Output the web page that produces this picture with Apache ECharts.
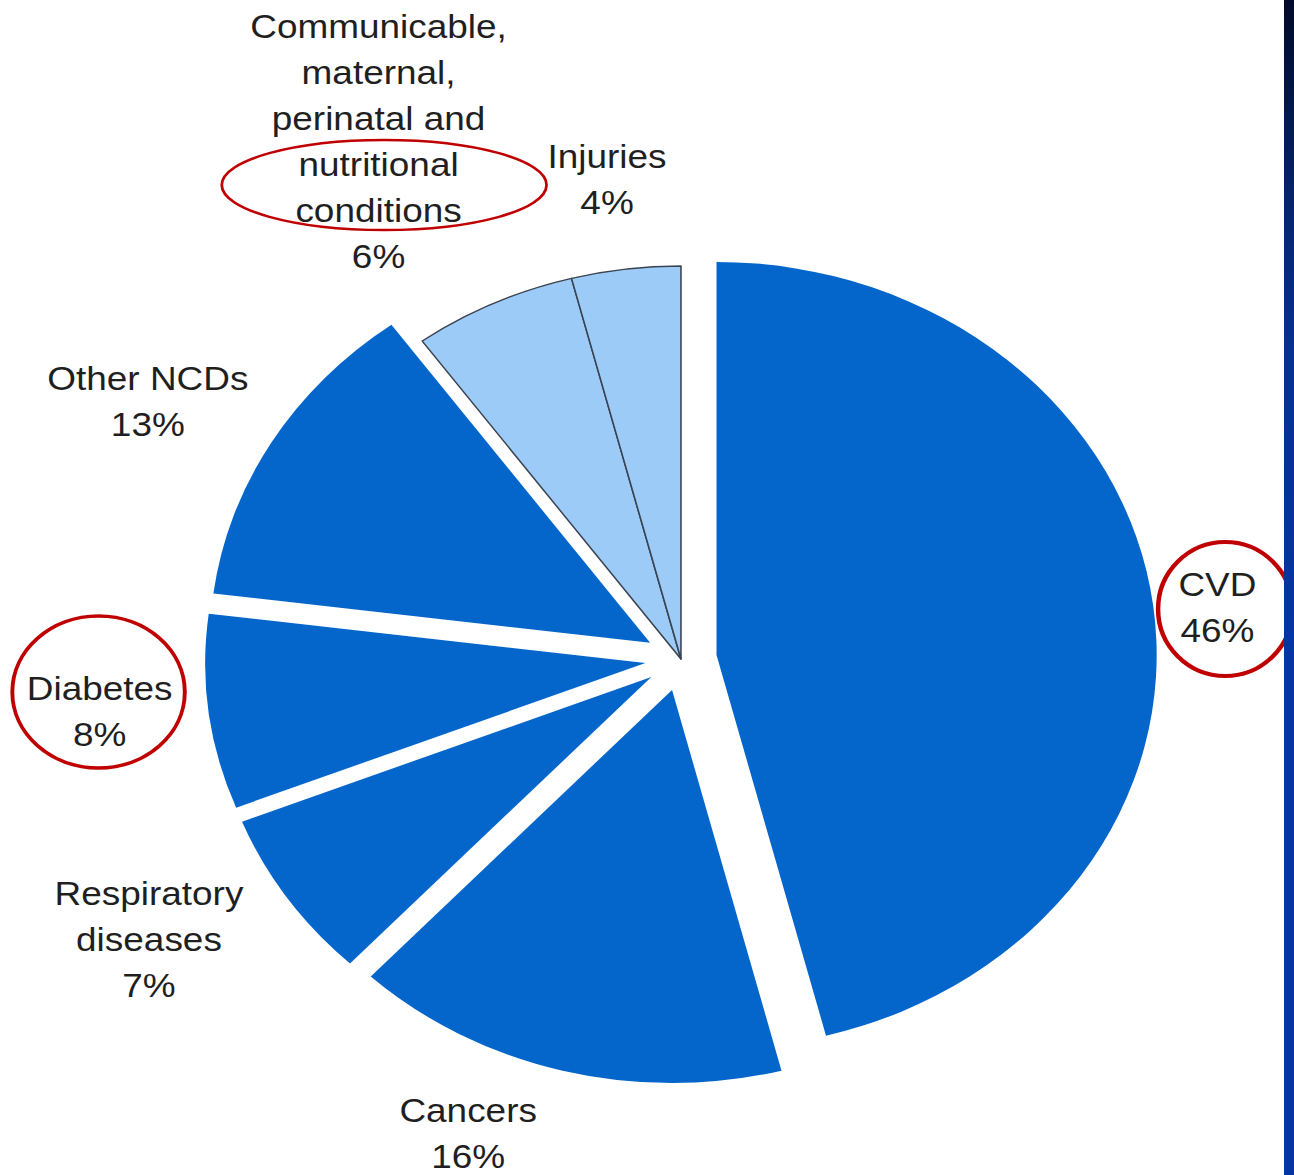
<!DOCTYPE html>
<html>
<head>
<meta charset="utf-8">
<title>Deaths by cause</title>
<script src="https://cdn.jsdelivr.net/npm/echarts@6/dist/echarts.min.js"></script>
<style>
  html, body { margin: 0; padding: 0; background: #ffffff; overflow: hidden; }
  #stage { position: absolute; left: 0; top: 0; width: 1294px; height: 1175px; overflow: hidden; background: #ffffff; }
  /* the figure is drawn in a narrower box and widened to the slide proportions */
  #chart { position: absolute; left: 0; top: 0; width: 1155px; height: 1175px; transform: scaleX(1.12); transform-origin: 0 0; }
  #edge { position: absolute; left: 1284px; top: 0; width: 10px; height: 1175px;
          background: linear-gradient(to bottom, #010a28 0%, #05256f 18%, #05318f 30%, #0336a3 55%, #0336a3 100%); }
</style>
</head>
<body>
<div id="stage">
  <div id="chart"></div>
  <div id="edge"></div>
</div>
<script>
// Share of deaths by cause (%)
const categories = [
  'CVD',
  'Cancers',
  'Respiratory diseases',
  'Diabetes',
  'Other NCDs',
  'Communicable, maternal, perinatal and nutritional conditions',
  'Injuries'
];
const shares = [46, 16, 7, 8, 13, 6, 4];
// Noncommunicable causes are pulled out of the pie
const isNcd = [true, true, true, true, true, false, false];

// Wrapped label text for each cause
const labelLines = [
  'CVD',
  'Cancers',
  'Respiratory\ndiseases',
  'Diabetes',
  'Other NCDs',
  'Communicable,\nmaternal,\nperinatal and\nnutritional\nconditions',
  'Injuries'
];

// Label anchor points (chart px, before widening)
const labelSpots = [
  [1087, 607],
  [418, 1133],
  [133, 939],
  [89, 711],
  [132, 401],
  [338, 141],
  [542, 179]
];

const PIE_CENTER = [608, 659];
const PIE_RADIUS = 393;
const PULL_OUT = 32;
const NCD_BLUE = '#0466cb';
const OTHER_BLUE = '#9dcbf8';

const chart = echarts.init(document.getElementById('chart'), null, { renderer: 'svg' });

const total = shares.reduce((a, b) => a + b, 0);

// One pie layer per cause: all layers share the same angles, only one slice
// is painted per layer, and that layer's centre is moved along the slice bisector.
let before = 0;
const layers = categories.map((name, k) => {
  const mid = (before + shares[k] / 2) / total * 2 * Math.PI;
  before += shares[k];
  const pull = isNcd[k] ? PULL_OUT : 0;
  const center = [
    PIE_CENTER[0] + pull * Math.sin(mid),
    PIE_CENTER[1] - pull * Math.cos(mid)
  ];
  const data = categories.map((n, i) => {
    if (i !== k) {
      return {
        name: n, value: shares[i],
        itemStyle: { color: 'rgba(0,0,0,0)', borderWidth: 0 },
        label: { show: false }
      };
    }
    const style = isNcd[i]
      ? { color: NCD_BLUE, borderWidth: 0 }
      : { color: OTHER_BLUE, borderColor: '#3a4350', borderWidth: 1.4 };
    return { name: n, value: shares[i], itemStyle: style };
  });
  return {
    type: 'pie',
    name: name,
    center: center,
    radius: PIE_RADIUS,
    startAngle: 90,
    clockwise: true,
    avoidLabelOverlap: false,
    silent: true,
    emphasis: { disabled: true },
    data: data,
    label: {
      show: true,
      position: 'outside',
      formatter: p => labelLines[p.dataIndex] + '\n' + p.value + '%',
      fontFamily: 'Liberation Sans, Arial, sans-serif',
      fontSize: 33,
      lineHeight: 46,
      color: '#1f1f1f',
      align: 'center'
    },
    labelLine: { show: false },
    labelLayout: p => ({
      x: labelSpots[p.dataIndex][0],
      y: labelSpots[p.dataIndex][1],
      align: 'center',
      verticalAlign: 'middle'
    })
  };
});

chart.setOption({
  backgroundColor: '#ffffff',
  animation: false,
  series: layers,
  graphic: [
    {
      type: 'ellipse', z: 100, silent: true,
      shape: { cx: 343, cy: 185, rx: 145, ry: 45 },
      style: { fill: 'none', stroke: '#c00000', lineWidth: 2.5 }
    },
    {
      type: 'ellipse', z: 100, silent: true,
      shape: { cx: 1094, cy: 609, rx: 60, ry: 67 },
      style: { fill: 'none', stroke: '#c00000', lineWidth: 4 }
    },
    {
      type: 'ellipse', z: 100, silent: true,
      shape: { cx: 88, cy: 692, rx: 77, ry: 76 },
      style: { fill: 'none', stroke: '#c00000', lineWidth: 3.5 }
    }
  ]
});
</script>
</body>
</html>
